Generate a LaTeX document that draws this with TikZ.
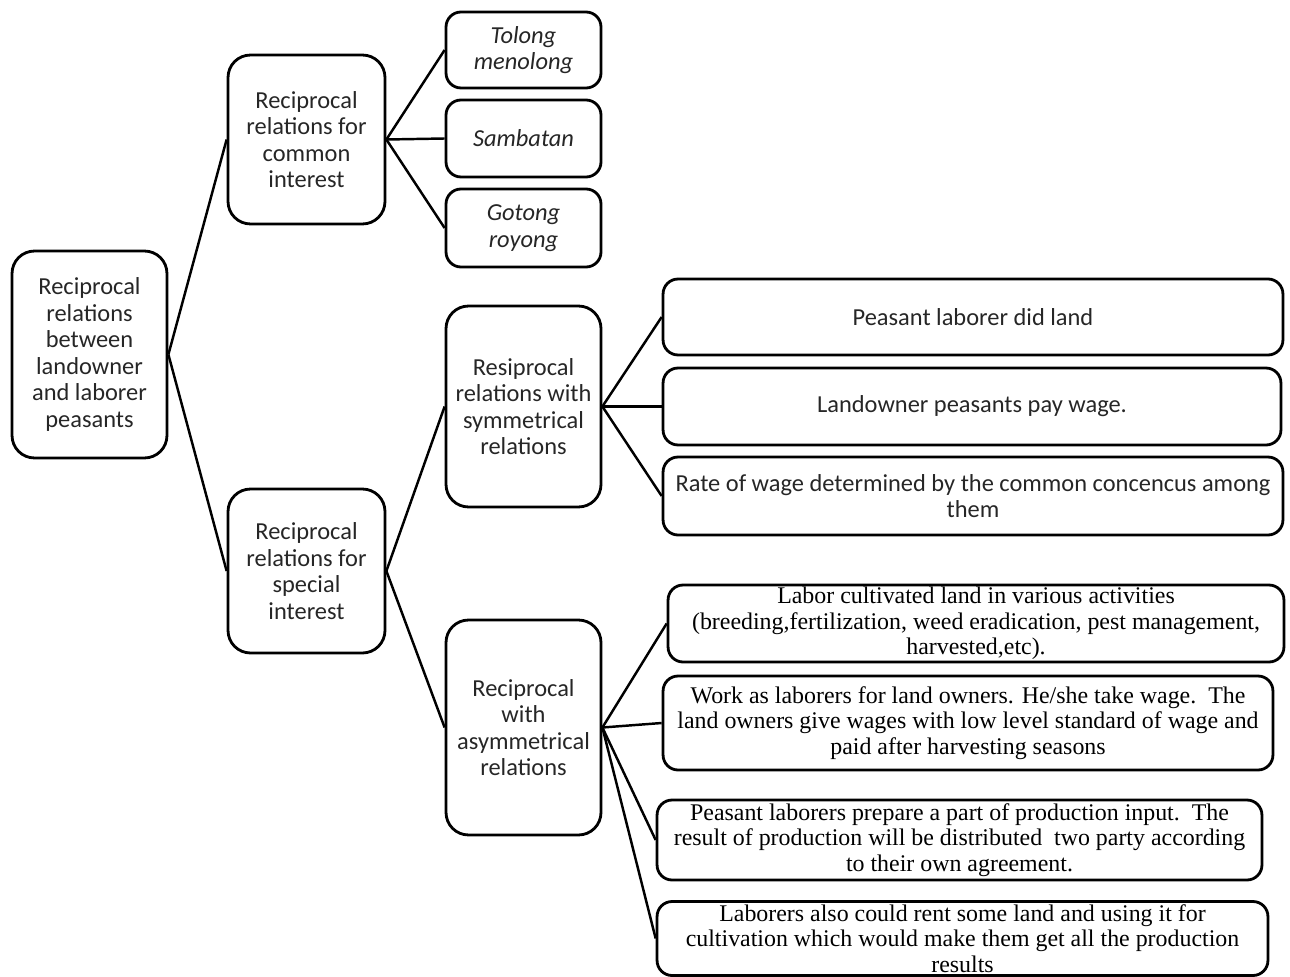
\documentclass[tikz,border=0pt]{standalone}
\usepackage{fontspec}
\setmainfont{Carlito}
\newfontfamily\timesfont{Liberation Serif}
\usepackage{tikz}

\begin{document}
\begin{tikzpicture}[x=0.02cm,y=-0.02cm,
    roundbox/.style={rectangle, rounded corners=4.5mm, draw=black, line width=1.6pt, inner sep=0pt, align=center, text=black!85, font=\fontsize{13.9}{15.1}\selectfont},
    widebox/.style={roundbox, rounded corners=3mm},
    serifbox/.style={widebox, text=black, font=\timesfont\fontsize{13.6}{14.4}\selectfont},
    link/.style={line width=1.4pt}
    ]
    \useasboundingbox (0,0) rectangle (1290,976);

    \node [roundbox, minimum width=3.1cm, minimum height=4.14cm] (root) at (89.5,354.5) {Reciprocal\\relations\\between\\landowner\\and laborer\\peasants};

    \node [roundbox, minimum width=3.14cm, minimum height=3.38cm] (common) at (306.5,139.5) {Reciprocal\\relations for\\common\\interest};
    \node [roundbox, minimum width=3.14cm, minimum height=3.28cm] (special) at (306.5,571) {Reciprocal\\relations for\\special\\interest};

    \node [widebox, minimum width=3.1cm, minimum height=1.52cm] (tolong) at (523.5,50) {\itshape Tolong\\\itshape menolong};
    \node [widebox, minimum width=3.1cm, minimum height=1.54cm] (sambatan) at (523.5,138.5) {\itshape Sambatan};
    \node [widebox, minimum width=3.1cm, minimum height=1.56cm] (gotong) at (523.5,228) {\itshape Gotong\\\itshape royong};

    \node [roundbox, minimum width=3.1cm, minimum height=4.02cm] (sym) at (523.5,406.5) {Resiprocal\\relations with\\symmetrical\\relations};
    \node [roundbox, minimum width=3.1cm, minimum height=4.3cm] (asym) at (523.5,727.5) {Reciprocal\\with\\asymmetrical\\relations};

    \node [widebox, minimum width=12.4cm, minimum height=1.52cm] (did) at (973,317) {Peasant laborer did land};
    \node [widebox, minimum width=12.36cm, minimum height=1.54cm] (pay) at (972,406.5) {Landowner peasants pay wage.};
    \node [widebox, minimum width=12.4cm, minimum height=1.56cm] (rate) at (973,496) {Rate of wage determined by the common concencus among\\them};

    \node [serifbox, minimum width=12.32cm, minimum height=1.54cm] (cultivate) at (976,623.5) {Labor cultivated land in various activities\\(breeding,fertilization, weed eradication, pest management,\\harvested,etc).};
    \node [serifbox, minimum width=12.2cm, minimum height=1.88cm] (work) at (968,723) {Work as laborers for land owners. He/she take wage.\ \ The\\land owners give wages with low level standard of wage and\\paid after harvesting seasons};
    \node [serifbox, minimum width=12.1cm, minimum height=1.6cm] (prepare) at (959.5,840) {Peasant laborers prepare a part of production input.\ \ The\\result of production will be distributed\ \ two party according\\to their own agreement.};
    \node [serifbox, minimum width=12.22cm, minimum height=1.48cm] (rent) at (962.5,938.5) {Laborers also could rent some land and using it for\\cultivation which would make them get all the production\\results};

    \draw [link] (root.east) edge (common.west);
    \draw [link] (root.east) edge (special.west);

    \draw [link] (common.east) edge (tolong.west);
    \draw [link] (common.east) edge (sambatan.west);
    \draw [link] (common.east) edge (gotong.west);

    \draw [link] (special.east) edge (sym.west);
    \draw [link] (special.east) edge (asym.west);

    \draw [link] (sym.east) edge (did.west);
    \draw [link] (sym.east) edge (pay.west);
    \draw [link] (sym.east) edge (rate.west);

    \draw [link] (asym.east) edge (cultivate.west);
    \draw [link] (asym.east) edge (work.west);
    \draw [link] (asym.east) edge (prepare.west);
    \draw [link] (asym.east) edge (rent.west);
\end{tikzpicture}
\end{document}
